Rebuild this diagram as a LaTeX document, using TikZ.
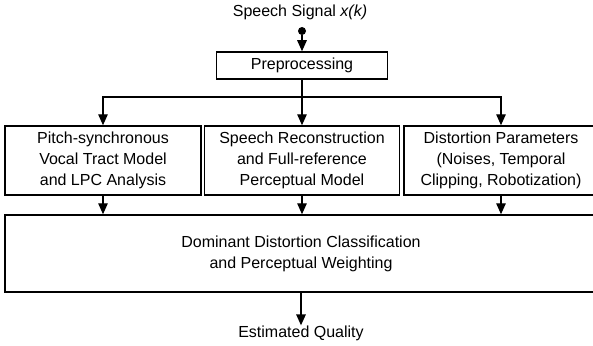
\documentclass[tikz,border=0pt]{standalone}
\usepackage{fontspec}
\setmainfont{Liberation Sans}
\usetikzlibrary{arrows.meta}
\tikzset{
  blk/.style={draw, line width=1.5pt, align=center, inner sep=0pt, font=\fontsize{16}{21}\selectfont},
  lbl/.style={inner sep=0pt, align=center, font=\fontsize{16}{21}\selectfont},
  conn/.style={line width=1.4pt, -{Triangle[length=11pt,width=9.5pt]}},
  wire/.style={line width=1.4pt}
}
\begin{document}
\begin{tikzpicture}[x=1pt,y=-1pt]
\useasboundingbox (0,0) rectangle (593,345);
\node[lbl] (title) at (300,12) {Speech Signal \textit{x(k)}};
\node[circle, fill, inner sep=0pt, minimum size=8pt] (dot) at (302,31) {};
\node[blk, minimum width=171pt, minimum height=27pt] (pre) at (302,65.5) {Preprocessing};
\node[blk, minimum width=196pt, minimum height=69pt] (left) at (103,160.5) {Pitch-synchronous\\Vocal Tract Model\\and LPC Analysis};
\node[blk, minimum width=195pt, minimum height=69pt] (mid) at (302,160.5) {Speech Reconstruction\\and Full-reference\\Perceptual Model};
\node[blk, minimum width=194pt, minimum height=69pt] (right) at (501,160.5) {Distortion Parameters\\(Noises, Temporal\\Clipping, Robotization)};
\node[blk, minimum width=592pt, minimum height=77pt] (bot) at (301,253.5) {Dominant Distortion Classification\\and Perceptual Weighting};
\node[lbl] (est) at (301,333) {Estimated Quality};
\coordinate (j) at (302,97);
\draw[conn] (dot) -- (pre.north);
\draw[conn] (pre.south) -- (mid.north);
\draw[conn] (j) -| (left.north);
\draw[conn] (j) -| (right.north);
\draw[conn] (left.south) -- (left.south |- bot.north);
\draw[conn] (mid.south) -- (mid.south |- bot.north);
\draw[conn] (right.south) -- (right.south |- bot.north);
\draw[conn] (bot.south -| est.north) -- (est.north);
\end{tikzpicture}
\end{document}
